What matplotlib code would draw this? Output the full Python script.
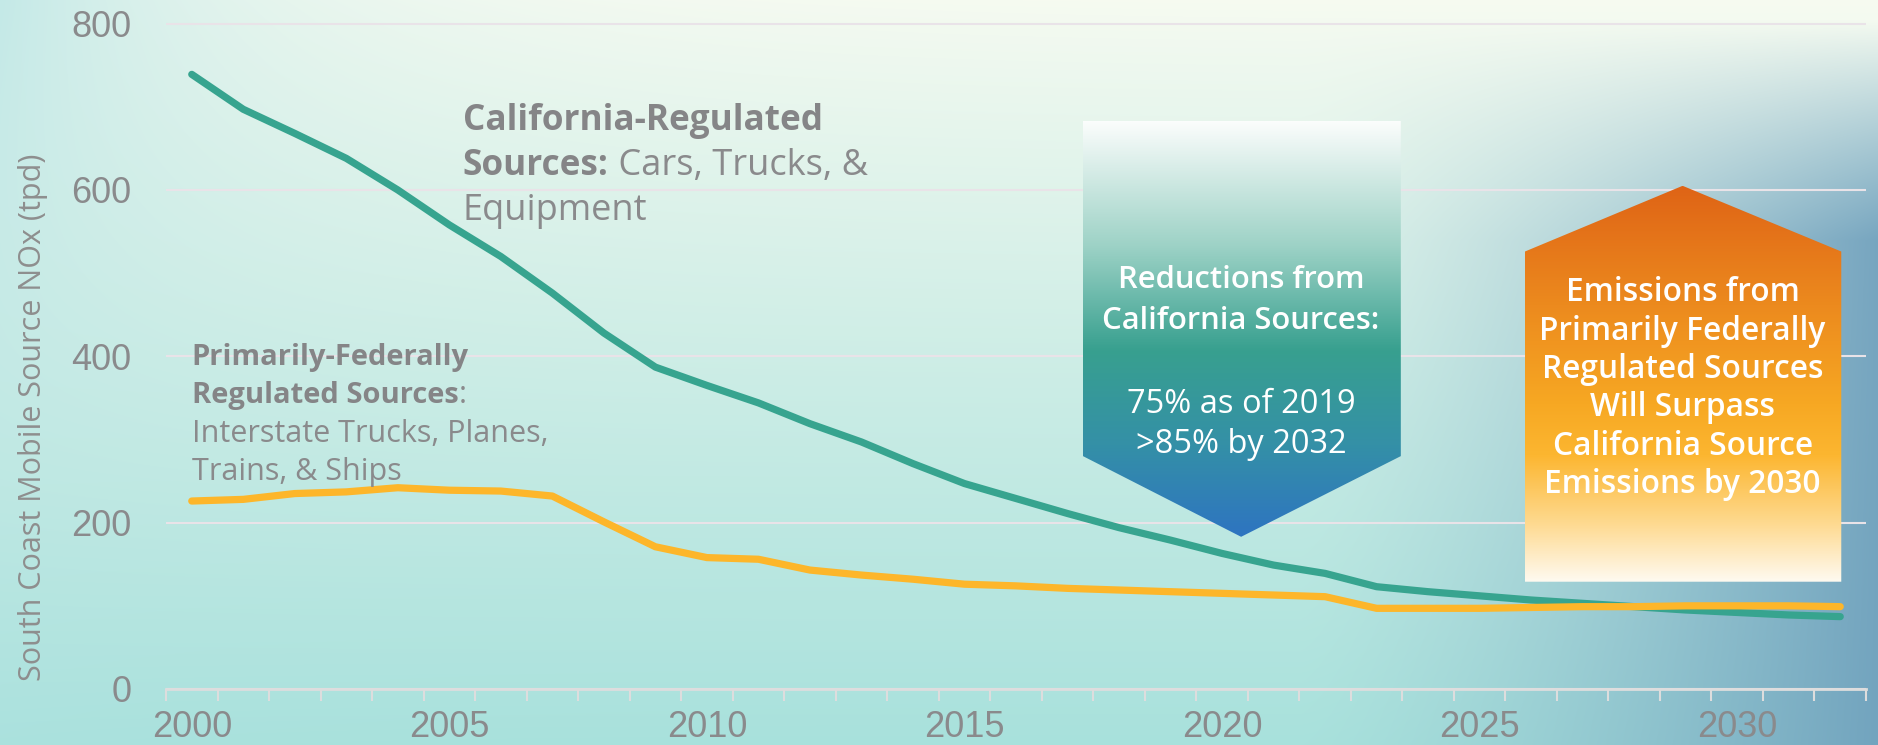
# South Coast mobile source NOx: California vs federally regulated sources

import numpy as np
import matplotlib.pyplot as plt
from matplotlib.patches import Polygon
from matplotlib.colors import LinearSegmentedColormap, to_rgb

years = list(range(2000, 2033))
california = [739, 697, 668, 638, 600, 558, 520, 476, 428, 387, 365, 344, 319, 297,
              271, 247, 229, 211, 194, 179, 163, 149, 139,
              123, 117, 112, 107, 103, 99, 95, 92, 89, 87]
federal = [226, 228, 235, 237, 242, 239, 238, 232, 201, 171, 158, 156, 143, 137,
           132, 126, 124, 121, 119, 117, 115, 113, 111,
           97, 97, 97, 98, 99, 99, 100, 100, 100, 99]
label_years = [2000, 2005, 2010, 2015, 2020, 2025, 2030]
y_ticks = [0, 200, 400, 600, 800]

grey = "#8a8a8c"
sans = ["Open Sans", "DejaVu Sans"]
arial = ["Liberation Sans", "DejaVu Sans"]

W, H = 1878, 745
fig = plt.figure(figsize=(W / 100, H / 100), dpi=100)

# background wash
bg = fig.add_axes([0, 0, 1, 1], zorder=0)
yy, xx = np.mgrid[0:H, 0:W].astype(float)
t = (yy / H) ** 0.9
top, bottom = np.array(to_rgb("#f7fbf1")), np.array(to_rgb("#a8e1dc"))
img = top * (1 - t[..., None]) + bottom * t[..., None]
left = np.exp(-xx / 260) * np.clip(1 - yy / 700, 0.3, 1) * 0.75
img = img * (1 - left[..., None]) + np.array(to_rgb("#b3e3e4")) * left[..., None]
right = np.clip((xx - 1300) / 578, 0, 1) ** 1.4 * np.clip((yy - 20) / 220, 0, 1) * 0.9
img = img * (1 - right[..., None]) + np.array(to_rgb("#6c9dbb")) * right[..., None]
bg.imshow(img, aspect="auto", extent=(0, W, H, 0))
bg.axis("off")

ax = fig.add_axes([166 / W, 56 / H, 1700 / W, 673.7 / H], zorder=1)
ax.patch.set_alpha(0)

ax.plot(years, california, color="#37a48f", lw=5.2, solid_capstyle="round", zorder=4)
ax.plot(years, federal, color="#fdb62a", lw=5.2, solid_capstyle="round", zorder=5)

ax.set_xlim(1999.5, 2032.5)
ax.set_ylim(0, 810)
ax.set_yticks(y_ticks)
ax.set_xticks(label_years)
ax.set_xticks(np.arange(1999.5, 2033, 1), minor=True)
ax.grid(axis="y", color="#e9e3e8", lw=1.5, zorder=1)
for s in ["top", "right", "left"]:
    ax.spines[s].set_visible(False)
ax.spines["bottom"].set_color("#dddddd")
ax.spines["bottom"].set_linewidth(2)
ax.tick_params(axis="x", which="major", length=0, pad=15, labelsize=26, labelcolor=grey)
ax.tick_params(axis="x", which="minor", length=8.4, width=1.5, color="#dddddd", direction="out")
ax.tick_params(axis="y", length=0, pad=25, labelsize=26, labelcolor=grey)
for lab in ax.get_xticklabels() + ax.get_yticklabels():
    lab.set_family(arial)
ax.set_ylabel("South Coast Mobile Source NOx (tpd)", fontsize=22, color="#8e8e8e",
              family=sans)
ax.yaxis.set_label_coords(-0.0695, 0.403)


def gradient_arrow(xs, ys, colors):
    poly = Polygon(list(zip(xs, ys)), closed=True, facecolor="none", edgecolor="none",
                   transform=ax.transData)
    ax.add_patch(poly)
    cmap = LinearSegmentedColormap.from_list("g", colors)
    grad = np.linspace(0, 1, 256)[:, None]
    im = ax.imshow(grad, cmap=cmap, aspect="auto", zorder=6,
                   extent=(min(xs), max(xs), min(ys), max(ys)), origin="upper")
    im.set_clip_path(poly)


# down arrow: reductions from California sources
gradient_arrow([2017.3, 2023.47, 2023.47, 2020.37, 2017.3],
               [683, 683, 280, 183, 280],
               [(0, "#fbfdfc"), (0.3, "#9dd2c6"), (0.55, "#38a08f"),
                (0.78, "#3490a7"), (1, "#2e74c1")])
# up arrow: federal sources will surpass
gradient_arrow([2025.88, 2032.02, 2032.02, 2028.94, 2025.88],
               [129, 129, 526, 605, 526],
               [(0, "#df6416"), (0.3, "#ec8a1e"), (0.55, "#f7a823"),
                (0.68, "#fcb630"), (0.85, "#fed98e"), (1, "#fffaf0")])
ax.set_xlim(1999.5, 2032.5)
ax.set_ylim(0, 810)

down_lines = [("Reductions from", 481.8, "semibold", 22.3), ("California Sources:", 432.5, "semibold", 22.3),
              ("75% as of 2019", 331.5, "normal", 23.5), (">85% by 2032", 283.4, "normal", 23.5)]
for txt, yv, wt, fs in down_lines:
    ax.text(2020.37, yv, txt, ha="center", va="baseline", fontsize=fs, color="white",
            family=sans, fontweight=wt, zorder=7)

up_lines = ["Emissions from", "Primarily Federally", "Regulated Sources",
            "Will Surpass", "California Source", "Emissions by 2030"]
up_y = [465.9, 419.8, 374.0, 327.8, 281.7, 235.7]
for txt, yv in zip(up_lines, up_y):
    ax.text(2028.94, yv, txt, ha="center", va="baseline", fontsize=22.8, color="white",
            family=sans, fontweight="semibold", zorder=7)


def mixed(x, y, bold, regular, size, rsize):
    t = ax.text(x, y, bold, ha="left", va="baseline", fontsize=size, color="#858587",
                family=sans, fontweight="bold", zorder=8)
    if regular:
        ax.annotate(regular, xy=(1, 0), xycoords=t, ha="left", va="bottom", fontsize=rsize,
                    color=grey, family=sans, zorder=8)


mixed(2005.26, 671.9, "California-Regulated", "", 25.3, 26)
mixed(2005.26, 617.8, "Sources:", " Cars, Trucks, &", 25.3, 26)
ax.text(2005.26, 563.7, "Equipment", ha="left", va="baseline", fontsize=26, color=grey,
        family=sans, zorder=8)

mixed(2000.0, 389.6, "Primarily-Federally", "", 21, 22)
mixed(2000.0, 343.9, "Regulated Sources", ":", 21, 22)
ax.text(2000.0, 297.4, "Interstate Trucks, Planes,", ha="left", va="baseline", fontsize=22,
        color=grey, family=sans, zorder=8)
ax.text(2000.0, 251.3, "Trains, & Ships", ha="left", va="baseline", fontsize=22,
        color=grey, family=sans, zorder=8)

fig.savefig("out.png", dpi=100)
